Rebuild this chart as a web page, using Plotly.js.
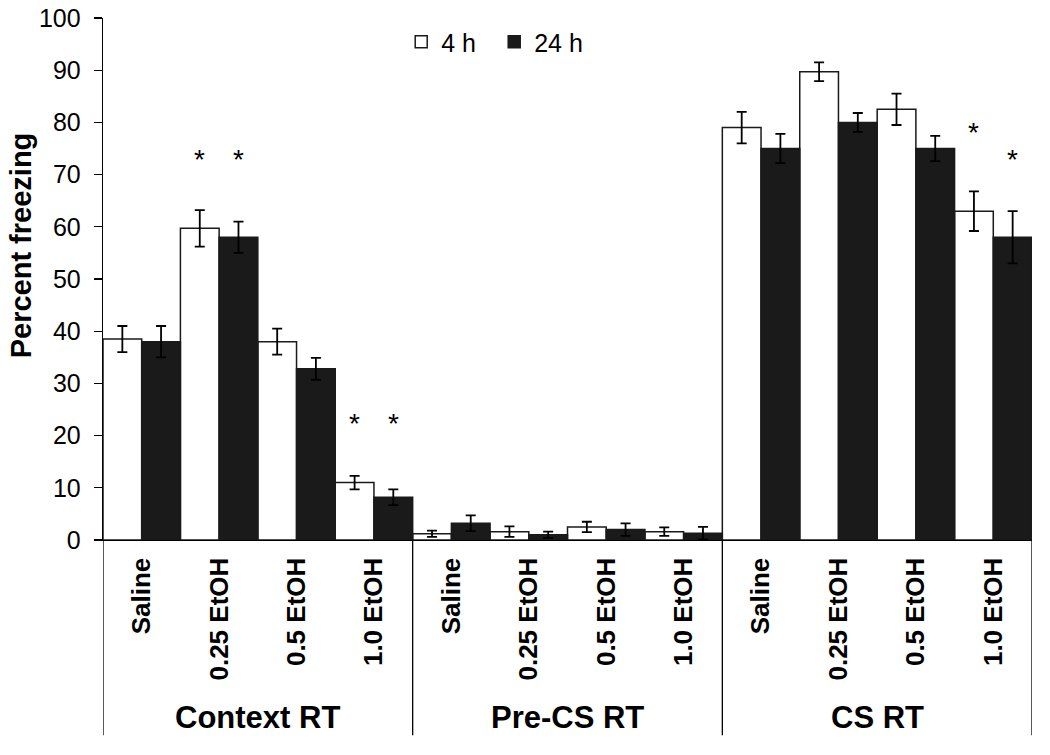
<!DOCTYPE html>
<html>
<head>
<meta charset="utf-8">
<script src="https://cdn.plot.ly/plotly-3.0.1.min.js"></script>
<style>html,body{margin:0;padding:0;background:#fff;}#chart{width:1050px;height:755px;}</style>
</head>
<body>
<div id="chart"></div>
<script>
// ---- data ----
const tickLabels = ["Saline","0.25 EtOH","0.5 EtOH","1.0 EtOH",
                    "Saline","0.25 EtOH","0.5 EtOH","1.0 EtOH",
                    "Saline","0.25 EtOH","0.5 EtOH","1.0 EtOH"];
const groupLabels = ["Context RT","Pre-CS RT","CS RT"];
const seriesNames = ["4 h","24 h"];
const values4h  = [38.5, 59.7, 38.0, 11.0,  1.2, 1.6, 2.5, 1.6,  79.0, 89.7, 82.5, 63.0];
const err4h     = [ 2.5,  3.5,  2.5,  1.3,  0.6, 1.0, 1.0, 0.8,   3.0,  1.8,  3.0,  3.8];
const values24h = [38.0, 58.0, 32.8,  8.2,  3.2, 1.0, 2.0, 1.3,  75.0, 80.0, 75.0, 58.0];
const err24h    = [ 3.0,  3.0,  2.1,  1.5,  1.5, 0.6, 1.2, 1.2,   2.8,  1.8,  2.4,  5.0];
// significance markers: category index, series (0 = 4 h, 1 = 24 h), height
const sigCat    = [1, 1, 3, 3, 11, 11];
const sigSeries = [0, 1, 0, 1, 0, 1];
const sigY      = [72.8, 72.8, 22.4, 22.4, 78.0, 72.8];
const yTitle = "Percent freezing";

const xs = tickLabels.map((_, i) => i);
const FONT = "Liberation Sans, Arial, sans-serif";

const errStyle = {type: "data", visible: true, color: "#000", thickness: 1.8, width: 5};
const traces = [
  {type: "bar", name: seriesNames[0], x: xs, y: values4h,
   error_y: Object.assign({array: err4h}, errStyle),
   marker: {color: "#ffffff", line: {color: "#1a1a1a", width: 1.5}}},
  {type: "bar", name: seriesNames[1], x: xs, y: values24h,
   error_y: Object.assign({array: err24h}, errStyle),
   marker: {color: "#1a1a1a", line: {color: "#1a1a1a", width: 1.5}}}
];

const annotations = sigCat.map((c, i) => ({
  x: c + (sigSeries[i] === 0 ? -0.25 : 0.25), y: sigY[i], xref: "x", yref: "y",
  text: "*", showarrow: false, font: {family: FONT, size: 28, color: "#000"}
}));
groupLabels.forEach((g, i) => {
  annotations.push({x: i * 4 + 1.5, y: -0.34, xref: "x", yref: "paper", text: "<b>" + g + "</b>",
    showarrow: false, yanchor: "middle", font: {family: FONT, size: 31, color: "#000"}});
});
annotations.push({x: -0.088, y: 0.565, xref: "paper", yref: "paper", text: "<b>" + yTitle + "</b>",
  textangle: -90, showarrow: false, xanchor: "center", yanchor: "middle",
  font: {family: FONT, size: 29, color: "#000"}});

const shapes = [0, 4, 8, 12].map(b => ({
  type: "line", xref: "x", yref: "paper", x0: b - 0.5, x1: b - 0.5, y0: 0, y1: -0.374,
  line: {color: "#000", width: 1.3}
}));

const layout = {
  width: 1050, height: 755,
  margin: {l: 103, r: 18, t: 18, b: 215},
  paper_bgcolor: "#fff", plot_bgcolor: "#fff",
  barmode: "group", bargap: 0, bargroupgap: 0,
  font: {family: FONT, color: "#000"},
  showlegend: true,
  legend: {orientation: "h", x: 0.321, y: 0.998, xanchor: "left", yanchor: "top",
           font: {family: FONT, size: 25, color: "#000"}, bgcolor: "rgba(0,0,0,0)",
           itemwidth: 30, traceorder: "normal", entrywidth: 48, entrywidthmode: "pixels"},
  xaxis: {range: [-0.5, 11.5], tickmode: "array", tickvals: xs, ticktext: tickLabels.map(t => "<b>" + t + "</b>"),
          tickangle: -90, ticks: "", showgrid: false, zeroline: false,
          showline: true, linecolor: "#000", linewidth: 1.3,
          ticklabelstandoff: 6,
          tickfont: {family: FONT, size: 26, color: "#000"}, automargin: false},
  yaxis: {range: [0, 100], dtick: 10, ticks: "outside", ticklen: 8, tickwidth: 1.3, tickcolor: "#000",
          showline: true, linecolor: "#000", linewidth: 1.3, showgrid: false, zeroline: false,
          ticklabelstandoff: 8,
          tickfont: {family: FONT, size: 25, color: "#000"},
          automargin: false},
  shapes: shapes,
  annotations: annotations
};

Plotly.newPlot("chart", traces, layout, {displayModeBar: false, staticPlot: true});
</script>
</body>
</html>
